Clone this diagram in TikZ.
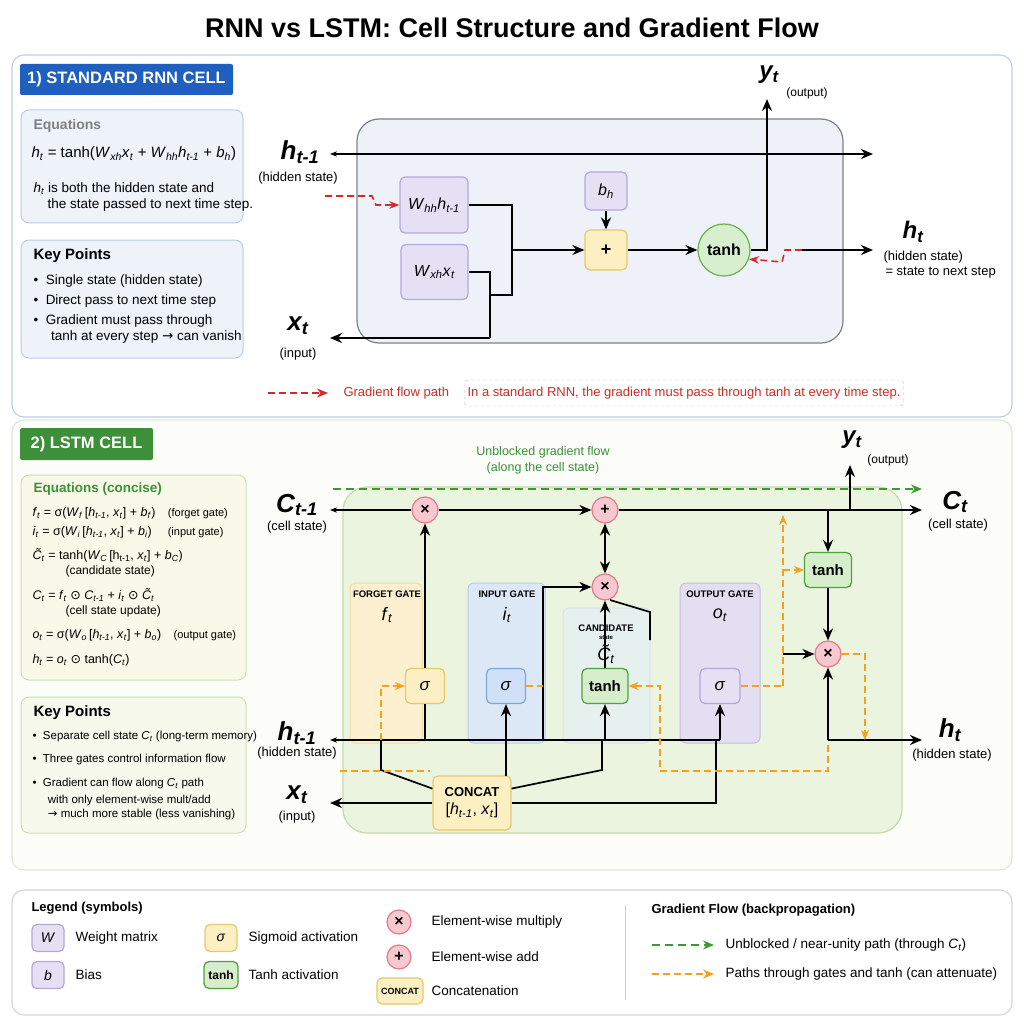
\documentclass[tikz,border=0pt]{standalone}
\usepackage{fontspec}
\setmainfont{Liberation Sans}
\newfontfamily\djv{DejaVu Sans}
\usetikzlibrary{arrows.meta,calc}
\newcommand\vv[2]{\textit{#1}\textsubscript{\textit{#2}}}
\newcommand\odt{{\djv ⊙}}
\newcommand\rarr{{\djv →}}
\definecolor{rnnblue}{HTML}{1F5FBF}
\definecolor{lgreen}{HTML}{3D8F3A}
\definecolor{gred}{HTML}{D62828}
\definecolor{gorange}{HTML}{F4A21E}
\definecolor{ggreen}{HTML}{3C9A34}
\tikzset{
  fs/.style={font=\fontsize{#1}{#1}\selectfont},
  wire/.style={line width=1.7pt,black},
  arr/.style={wire,-{Stealth[length=12pt,width=10pt]}},
  rdash/.style={line width=1.6pt,gred,dash pattern=on 7pt off 4pt},
  odash/.style={line width=1.4pt,gorange,dash pattern=on 7pt off 4pt},
  gdash/.style={line width=1.6pt,ggreen,dash pattern=on 8pt off 5pt},
  wbox/.style={draw={rgb,255:red,180;green,168;blue,216},fill={rgb,255:red,230;green,224;blue,245},rounded corners=5pt,line width=1.2pt,inner sep=0pt},
  ybox/.style={draw={rgb,255:red,230;green,200;blue,110},fill={rgb,255:red,252;green,240;blue,195},rounded corners=5pt,line width=1.2pt,inner sep=0pt},
  gbox/.style={draw={rgb,255:red,80;green,160;blue,60},fill={rgb,255:red,214;green,238;blue,204},rounded corners=5pt,line width=1.2pt,inner sep=0pt},
  bbox/.style={draw={rgb,255:red,126;green,166;blue,220},fill={rgb,255:red,207;green,224;blue,247},rounded corners=5pt,line width=1.2pt,inner sep=0pt},
  opcirc/.style={circle,draw={rgb,255:red,224;green,123;blue,138},fill={rgb,255:red,248;green,200;blue,208},line width=1.2pt,minimum size=26pt,inner sep=0pt,font=\bfseries\fontsize{16}{16}\selectfont},
  big/.style={font=\bfseries\itshape\fontsize{26}{28}\selectfont},
  lbl/.style={fs=13},
  txt/.style={fs=13.5,anchor=west},
  gatet/.style={font=\bfseries\fontsize{9.5}{10}\selectfont},
  oarr/.style={odash,-{Stealth[length=10pt,width=8pt]}},
}
\begin{document}
\begin{tikzpicture}[x=1pt,y=-1pt]
\useasboundingbox (0,0) rectangle (1024,1024);
\fill[white] (0,0) rectangle (1024,1024);
\node[font=\bfseries\fontsize{27}{28}\selectfont] (title) at (512,28) {RNN vs LSTM: Cell Structure and Gradient Flow};

% ---------------- Panel 1
\draw[draw={rgb,255:red,190;green,208;blue,232},fill=white,rounded corners=12pt,line width=1.2pt] (12,55) rectangle (1012,417);
\node[fill=rnnblue,rounded corners=2pt,minimum width=213pt,minimum height=31pt,text=white,font=\bfseries\fontsize{16.5}{18}\selectfont] (h1) at (126.5,79.5) {1) STANDARD RNN CELL};
\draw[draw={rgb,255:red,184;green,205;blue,232},fill={rgb,255:red,238;green,243;blue,250},rounded corners=8pt,line width=1pt] (21,110) rectangle (243,223);
\node[txt,text=gray,font=\bfseries\fontsize{14}{15}\selectfont] (eqt) at (30,126) {Equations};
\node[txt,fs=15] (eq1) at (28,154) {\vv{h}{t} = tanh(\vv{W}{xh}\vv{x}{t} + \vv{W}{hh}\vv{h}{t-1} + \vv{b}{h})};
\node[txt] (eq2) at (30,189) {\vv{h}{t} is both the hidden state and};
\node[txt] (eq3) at (44,205) {the state passed to next time step.};
\draw[draw={rgb,255:red,184;green,205;blue,232},fill={rgb,255:red,238;green,243;blue,250},rounded corners=8pt,line width=1pt] (21,240) rectangle (243,358);
\node[txt,font=\bfseries\fontsize{15}{16}\selectfont] (kpt) at (30,256) {Key Points};
\node[txt] (k1) at (30,281) {•\ \ Single state (hidden state)};
\node[txt] (k2) at (30,301) {•\ \ Direct pass to next time step};
\node[txt] (k3) at (30,321) {•\ \ Gradient must pass through};
\node[txt] (k4) at (40,337) {\ \ tanh at every step \rarr\ can vanish};

\draw[draw={rgb,255:red,120;green,130;blue,140},fill={rgb,255:red,238;green,242;blue,248},rounded corners=22pt,line width=1.2pt] (357,119) rectangle (843,343);
\node[big] (hprev) at (300,152) {\vv{h}{t-1}};
\node[lbl] (hprevl) at (298,178) {(hidden state)};
\node[big] (xt) at (298,326) {\vv{x}{t}};
\node[lbl] (xtl) at (298,354) {(input)};
\coordinate (hL) at (330,154); \coordinate (hR) at (873,154);
\draw[wire,{Stealth[length=7pt]}-{Stealth[length=12pt,width=10pt]}] (hL) -- (hR);
\node[wbox,minimum width=68pt,minimum height=56pt,fs=16] (whh) at (434,205) {\vv{W}{hh}\vv{h}{t-1}};
\node[wbox,minimum width=67pt,minimum height=55pt,fs=16] (wxh) at (434.5,272) {\vv{W}{xh}\vv{x}{t}};
\node[wbox,minimum width=42pt,minimum height=38pt,fs=16] (bh) at (606,191) {\vv{b}{h}};
\node[ybox,minimum width=42pt,minimum height=40pt,font=\bfseries\fontsize{18}{18}\selectfont] (plus) at (606,250) {+};
\node[circle,draw={rgb,255:red,106;green,176;blue,76},fill={rgb,255:red,215;green,239;blue,207},line width=1.2pt,minimum size=52pt,inner sep=0pt,font=\bfseries\fontsize{16}{16}\selectfont] (tanh1) at (724,250) {tanh};
\coordinate (xL) at (330,338);
\draw[wire] (whh.east) -- (512,205) -- (512,250);
\draw[wire] (wxh.east) -- (490,272) -- (490,338);
\draw[wire] (490,295) -- (512,295) -- (512,250);
\draw[arr] (490,338) -- (xL) ;
\draw[arr] (512,250) -- (plus.west);
\draw[arr] (bh) -- (plus);
\draw[arr] (plus) -- (tanh1);
\node[font=\bfseries\itshape\fontsize{24}{24}\selectfont] (yt1) at (769,75) {\vv{y}{t}};
\node[fs=12] (yt1l) at (807,93) {(output)};
\draw[arr] (tanh1.east) -- (767,250) -- (767,99);
\coordinate (htR) at (873,250);
\draw[arr] (802,250) -- (htR);
\node[font=\bfseries\itshape\fontsize{24}{24}\selectfont] (ht1) at (913,232) {\vv{h}{t}};
\node[lbl,anchor=west] (ht1l) at (880,257) {(hidden state)};
\node[lbl,anchor=west] (ht1m) at (882,273) {= state to next step};
\draw[rdash,-{Stealth[length=10pt]}] (802,250) -- (785,250) -- (782,262) -- (tanh1.-20);
\draw[rdash,-{Stealth[length=10pt]}] (325,196) -- (372,196) -- (376,205) -- (whh.west);
\coordinate (rl1) at (268,393); \coordinate (rl2) at (328,393);
\draw[rdash,-{Stealth[length=11pt,width=9pt]}] (rl1) -- (rl2);
\node[fs=13,text=gred,anchor=west] (rlt) at (340,393) {Gradient flow path};
\node[draw={rgb,255:red,240;green,160;blue,160},dashed,rounded corners=4pt,minimum width=434pt,minimum height=26pt,fill=white,text=gred,fs=13] (rnote) at (684,393) {In a standard RNN, the gradient must pass through tanh at every time step.};

% ---------------- Panel 2
\draw[draw={rgb,255:red,222;green,233;blue,212},fill={rgb,255:red,252;green,253;blue,249},rounded corners=12pt,line width=1.2pt] (12,420) rectangle (1012,870);
\node[fill=lgreen,rounded corners=2pt,minimum width=133pt,minimum height=32pt,text=white,font=\bfseries\fontsize{16.5}{18}\selectfont] (h2) at (86.5,444) {2) LSTM CELL};
\draw[draw={rgb,255:red,207;green,224;blue,184},fill={rgb,255:red,248;green,249;blue,232},rounded corners=8pt,line width=1pt] (21,475) rectangle (246,680);
\node[txt,text=lgreen,font=\bfseries\fontsize{13.5}{15}\selectfont] (eqt2) at (30,489) {Equations (concise)};
\begin{scope}[every node/.style={txt,fs=12.5}]
\node (e1) at (29,513) {\vv{f}{t} = σ(\vv{W}{f}\,[\vv{h}{t-1}, \vv{x}{t}] + \vv{b}{f})\quad {\fontsize{11}{12}\selectfont (forget gate)}};
\node (e2) at (29,532) {\vv{i}{t} = σ(\vv{W}{i}\,[\vv{h}{t-1}, \vv{x}{t}] + \vv{b}{i})\quad\ {\fontsize{11}{12}\selectfont (input gate)}};
\node (e3) at (29,555) {\vv{C̃}{t} = tanh(\vv{W}{C}\,[h\textsubscript{t-1}, \vv{x}{t}] + \vv{b}{C})};
\node (e4) at (62,571) {\fontsize{12}{12}\selectfont (candidate state)};
\node (e5) at (29,595) {\vv{C}{t} = \vv{f}{t} \odt\ \vv{C}{t-1} + \vv{i}{t} \odt\ \vv{C̃}{t}};
\node (e6) at (62,611) {\fontsize{12}{12}\selectfont (cell state update)};
\node (e7) at (29,635) {\vv{o}{t} = σ(\vv{W}{o}\,[\vv{h}{t-1}, \vv{x}{t}] + \vv{b}{o})\quad {\fontsize{11}{12}\selectfont (output gate)}};
\node (e8) at (29,660) {\vv{h}{t} = \vv{o}{t} \odt\ tanh(\vv{C}{t})};
\end{scope}
\draw[draw={rgb,255:red,207;green,224;blue,184},fill={rgb,255:red,246;green,249;blue,236},rounded corners=8pt,line width=1pt] (21,697) rectangle (246,833);
\node[txt,font=\bfseries\fontsize{15}{16}\selectfont] (kpt2) at (30,713) {Key Points};
\begin{scope}[every node/.style={txt,fs=11.5}]
\node (q1) at (29,737) {•\ \ Separate cell state \vv{C}{t} (long-term memory)};
\node (q2) at (29,760) {•\ \ Three gates control information flow};
\node (q3) at (29,784) {•\ \ Gradient can flow along \vv{C}{t} path};
\node (q4) at (38,801) {\ \ with only element-wise mult/add};
\node (q5) at (38,815) {\ \ \rarr\ much more stable (less vanishing)};
\end{scope}

\draw[draw={rgb,255:red,197;green,220;blue,174},fill={rgb,255:red,234;green,244;blue,222},rounded corners=24pt,line width=1.2pt] (343,487) rectangle (902,833);
% gate boxes
\draw[draw={rgb,255:red,245;green,220;blue,154},fill={rgb,255:red,252;green,240;blue,208},rounded corners=6pt,line width=1pt] (350,583) rectangle (422,743);
\draw[draw={rgb,255:red,184;green,205;blue,238},fill={rgb,255:red,221;green,232;blue,247},rounded corners=6pt,line width=1pt] (468,583) rectangle (545,743);
\draw[draw={rgb,255:red,215;green,228;blue,235},fill={rgb,255:red,230;green,240;blue,238},rounded corners=6pt,line width=1pt] (563,608) rectangle (650,743);
\draw[draw={rgb,255:red,198;green,188;blue,230},fill={rgb,255:red,228;green,222;blue,243},rounded corners=6pt,line width=1pt] (680,583) rectangle (760,743);
\node[gatet] (fgt) at (387,594) {FORGET GATE};
\node[fs=18] (fgs) at (387,615) {\vv{f}{t}};
\node[gatet] (igt) at (507,594) {INPUT GATE};
\node[fs=18] (igs) at (507,615) {\vv{i}{t}};
\node[gatet] (cgt) at (606,628) {CANDIDATE};
\node[font=\bfseries\fontsize{6}{7}\selectfont] (cgt2) at (606,638) {state};
\node[fs=18] (cgs) at (606,654) {\vv{C̃}{t}};
\node[gatet] (ogt) at (720,594) {OUTPUT GATE};
\node[fs=18] (ogs) at (720,615) {\vv{o}{t}};
\node[ybox,minimum width=39pt,minimum height=35pt,fs=17] (sf) at (425,686) {\textit{σ}};
\node[bbox,minimum width=39pt,minimum height=35pt,fs=17] (si) at (506,686) {\textit{σ}};
\node[gbox,minimum width=46pt,minimum height=35pt,font=\bfseries\fontsize{15}{15}\selectfont] (tc) at (605,686) {tanh};
\node[wbox,minimum width=40pt,minimum height=35pt,fs=17] (so) at (720,686) {\textit{σ}};
\node[opcirc] (m1) at (425,510) {×};
\node[opcirc] (a1) at (605,510) {+};
\node[opcirc] (m2) at (605,587) {×};
\node[gbox,minimum width=47pt,minimum height=35pt,font=\bfseries\fontsize{15}{15}\selectfont] (to) at (828,570) {tanh};
\node[opcirc] (m3) at (828,654) {×};
\node[ybox,minimum width=78pt,minimum height=54pt,align=center,font=\fontsize{13}{18}\selectfont] (cc) at (472,803) {\textbf{CONCAT}\\{\fontsize{16}{18}\selectfont[\vv{h}{t-1}, \vv{x}{t}]}};
% labels
\node[big] (cprev) at (297,505) {\vv{C}{t-1}};
\node[lbl] (cprevl) at (297,527) {(cell state)};
\node[big] (hprev2) at (297,733) {\vv{h}{t-1}};
\node[lbl] (hprev2l) at (297,753) {(hidden state)};
\node[big] (xt2) at (297,795) {\vv{x}{t}};
\node[lbl] (xt2l) at (297,817) {(input)};
\node[big] (ct) at (955,502) {\vv{C}{t}};
\node[lbl] (ctl) at (958,525) {(cell state)};
\node[big] (ht2) at (950,730) {\vv{h}{t}};
\node[lbl] (ht2l) at (952,755) {(hidden state)};
\node[font=\bfseries\itshape\fontsize{24}{24}\selectfont] (yt2) at (852,440) {\vv{y}{t}};
\node[fs=12] (yt2l) at (888,460) {(output)};
\node[font=\fontsize{12.5}{16}\selectfont,text=lgreen,align=center] (unb) at (543,460) {Unblocked gradient flow\\(along the cell state)};
% gradient green
\coordinate (gL) at (333,489); \coordinate (gR) at (922,489);
\draw[gdash,-{Stealth[length=11pt,width=9pt]}] (gL) -- (gR);
% cell state line
\coordinate (cL) at (330,510); \coordinate (cR) at (922,510);
\draw[wire,{Stealth[length=7pt]}-] (cL) -- (m1);
\draw[arr] (m1) -- (a1);
\draw[arr] (a1) -- (cR);
\draw[arr] (sf) -- (m1);
\draw[wire,{Stealth[length=12pt,width=10pt]}-{Stealth[length=12pt,width=10pt]}] (a1) -- (m2);
\draw[arr] (tc) -- (m2);
\draw[wire] (650,640) -- (650,612) -- (610,600);
\draw[arr] (543,740) -- (543,587) -- (m2);
% h line
\coordinate (hL2) at (330,740);
\draw[wire,{Stealth[length=7pt]}-] (hL2) -- (720,740);
\draw[wire] (425,740) -- (sf);
\draw[arr] (506,740) -- (si);
\draw[arr] (605,740) -- (tc);
\draw[arr] (720,740) -- (so);
% concat
\draw[wire] (cc.160) -- (381,770) -- (381,740);
\draw[wire] (506,776) -- (506,740);
\draw[wire] (cc.20) -- (602,770) -- (602,740);
\draw[arr] (cc.west |- 0,803) -- (330,803);
\draw[wire] (cc.east |- 0,803) -- (716,803) -- (716,740);
% output part
\draw[arr] (828,510) -- (to);
\draw[arr] (to) -- (m3);
\draw[arr] (850,510) -- (850,465);
\coordinate (hR2) at (922,740);
\draw[arr] (828,740) -- (hR2);
\draw[arr] (828,740) -- (m3);
\draw[odash] (so.east) -- (783,686);
\draw[arr] (783,654) -- (m3);
% orange paths
\draw[oarr] (783,686) -- (783,515);
\draw[oarr] (783,570) -- (to.west);
\draw[oarr] (m3.east) -- (865,654) -- (865,740);
\draw[oarr] (828,745) -- (828,771) -- (660,771) -- (660,686) -- (tc.east);
\draw[odash] (340,771) -- (430,771);
\draw[oarr] (381,740) -- (381,686) -- (sf.west);
\draw[odash] (si.east) -- (543,686);

% ---------------- Legend
\draw[draw={rgb,255:red,215;green,215;blue,215},fill=white,rounded corners=12pt,line width=1.2pt] (12,890) rectangle (1012,1015);
\node[txt,font=\bfseries\fontsize{13}{14}\selectfont] (lgt) at (28,908) {Legend (symbols)};
\node[wbox,minimum width=32pt,minimum height=27pt,fs=14] (lw) at (48,938) {\textit{W}};
\node[txt] (lwt) at (72,938) {Weight matrix};
\node[wbox,minimum width=32pt,minimum height=27pt,fs=14] (lb) at (48,975) {\textit{b}};
\node[txt] (lbt) at (72,975) {Bias};
\node[ybox,minimum width=32pt,minimum height=27pt,fs=14] (ls) at (221,938) {\textit{σ}};
\node[txt] (lst) at (245,938) {Sigmoid activation};
\node[gbox,minimum width=34pt,minimum height=27pt,font=\bfseries\fontsize{12}{12}\selectfont] (lt) at (221,975) {tanh};
\node[txt] (ltt) at (245,975) {Tanh activation};
\node[opcirc,minimum size=24pt] (lm) at (399,922) {×};
\node[txt] (lmt) at (428,922) {Element-wise multiply};
\node[opcirc,minimum size=24pt] (la) at (399,957) {+};
\node[txt] (lat) at (428,957) {Element-wise add};
\node[ybox,minimum width=46pt,minimum height=26pt,font=\bfseries\fontsize{9}{10}\selectfont] (lc) at (400,991) {CONCAT};
\node[txt] (lct) at (428,991) {Concatenation};
\draw[gray!40,line width=1pt] (625,905) -- (625,1000);
\node[txt,font=\bfseries\fontsize{13}{14}\selectfont] (gft) at (648,910) {Gradient Flow (backpropagation)};
\coordinate (lg1) at (652,945); \coordinate (lg2) at (714,945);
\draw[gdash,-{Stealth[length=11pt,width=9pt]}] (lg1) -- (lg2);
\node[txt] (lgt2) at (722,945) {Unblocked / near-unity path (through \vv{C}{t})};
\coordinate (lo1) at (652,974); \coordinate (lo2) at (714,974);
\draw[odash,line width=1.6pt,-{Stealth[length=11pt,width=9pt]}] (lo1) -- (lo2);
\node[txt] (lot) at (722,974) {Paths through gates and tanh (can attenuate)};
\end{tikzpicture}
\end{document}
